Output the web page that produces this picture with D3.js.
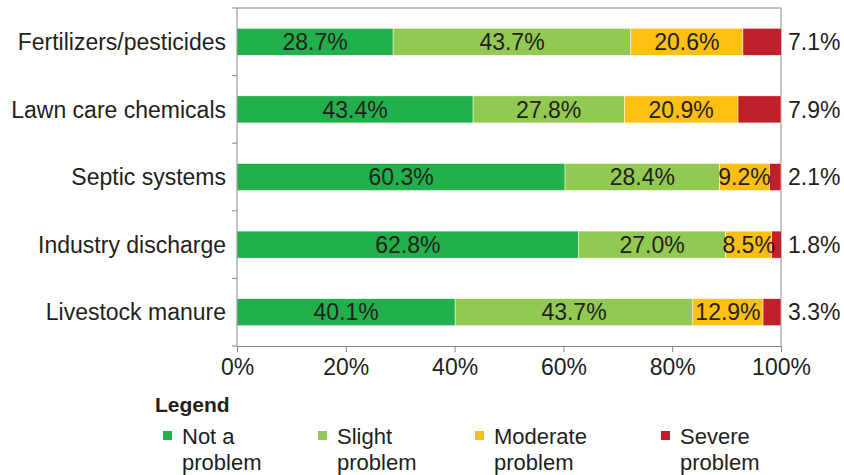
<!DOCTYPE html>
<html lang="en">
<head>
<meta charset="UTF-8">
<title>Water pollution sources</title>
<script src="https://d3js.org/d3.v7.min.js"></script>
<style>
    body { margin: 0; background: #fff; }
    svg text { font-family: "Liberation Sans", Arial, sans-serif; fill: #231f20; }
</style>
</head>
<body>
<svg id="chart" width="844" height="475"></svg>
<script>
// data
const categories = ["Fertilizers/pesticides", "Lawn care chemicals", "Septic systems", "Industry discharge", "Livestock manure"];
const seriesNames = ["Not a problem", "Slight problem", "Moderate problem", "Severe problem"];
const notAProblem = [28.7, 43.4, 60.3, 62.8, 40.1];
const slight = [43.7, 27.8, 28.4, 27.0, 43.7];
const moderate = [20.6, 20.9, 9.2, 8.5, 12.9];
const severe = [7.1, 7.9, 2.1, 1.8, 3.3];
const xTicks = [0, 20, 40, 60, 80, 100];
const colors = ["#21b04b", "#92c953", "#fdbf12", "#c0202a"];

const svg = d3.select("#chart");
const m = { left: 237, right: 63, top: 8, bottom: 129 };
const W = 844, H = 475;

const x = d3.scaleLinear().domain([0, 100]).range([m.left, W - m.right]);
const y = d3.scaleBand().domain(categories).range([m.top, H - m.bottom]).paddingInner(0.6).paddingOuter(0.3);

const rows = categories.map((c, i) => {
    const vals = [notAProblem[i], slight[i], moderate[i], severe[i]];
    let acc = 0;
    return vals.map((v, k) => { const s = acc; acc += v; return { cat: c, k, v, x0: s, x1: acc }; });
});

// frame top and right
svg.append("line").attr("x1", x(0)).attr("x2", x(100)).attr("y1", m.top).attr("y2", m.top).attr("stroke", "#888");
svg.append("line").attr("x1", x(100)).attr("x2", x(100)).attr("y1", m.top).attr("y2", H - m.bottom).attr("stroke", "#888");

const segs = svg.append("g").selectAll("g").data(rows).join("g");
segs.selectAll("rect").data(d => d).join("rect")
    .attr("x", d => x(d.x0))
    .attr("y", d => y(d.cat))
    .attr("width", d => x(d.x1) - x(d.x0))
    .attr("height", y.bandwidth())
    .attr("fill", d => colors[d.k])
    .attr("stroke", "#fff").attr("stroke-width", 0.5);

segs.selectAll("text").data(d => d).join("text")
    .attr("x", d => d.k === 3 ? x(100) + 7 : (x(d.x0) + x(d.x1)) / 2)
    .attr("y", d => y(d.cat) + y.bandwidth() / 2)
    .attr("dy", "0.36em")
    .attr("text-anchor", d => d.k === 3 ? "start" : "middle")
    .style("font-size", "23px")
    .text(d => d.v.toFixed(1) + "%");

// y axis with ticks between categories
const yAx = svg.append("g").attr("transform", `translate(${x(0)},0)`);
yAx.append("line").attr("y1", m.top).attr("y2", H - m.bottom).attr("stroke", "#888");
yAx.selectAll(".yt").data(d3.range(categories.length + 1)).join("line")
    .attr("class", "yt")
    .attr("x1", -5).attr("x2", 0)
    .attr("y1", i => m.top + i * y.step())
    .attr("y2", i => m.top + i * y.step())
    .attr("stroke", "#888");
yAx.selectAll(".yl").data(categories).join("text")
    .attr("class", "yl")
    .attr("x", -11)
    .attr("y", d => y(d) + y.bandwidth() / 2)
    .attr("dy", "0.36em")
    .attr("text-anchor", "end")
    .style("font-size", "23px")
    .text(d => d);

// x axis
const xAx = svg.append("g").attr("transform", `translate(0,${H - m.bottom})`)
    .call(d3.axisBottom(x).tickValues(xTicks).tickFormat(d => d + "%").tickSize(6).tickPadding(7));
xAx.selectAll("text").style("font-size", "23px").attr("fill", "#231f20").attr("font-family", null);
xAx.select(".domain").attr("stroke", "#888");
xAx.selectAll(".tick line").attr("stroke", "#888");

// legend
svg.append("text").attr("x", 155).attr("y", 412)
    .style("font-size", "21px").style("font-weight", "bold").text("Legend");
const legX = [163, 318, 475, 661];
const leg = svg.append("g").selectAll("g").data(seriesNames).join("g")
    .attr("transform", (d, i) => `translate(${legX[i]},0)`);
leg.append("rect").attr("x", 0).attr("y", 431).attr("width", 9).attr("height", 9)
    .attr("fill", (d, i) => colors[i]);
leg.append("text").attr("x", 19).attr("y", 444).style("font-size", "22px")
    .selectAll("tspan").data(d => {
        const p = d.split(" ");
        return [p.slice(0, -1).join(" "), p[p.length - 1]];
    }).join("tspan")
    .attr("x", 19).attr("dy", (d, i) => i === 0 ? 0 : 26)
    .text(d => d);
</script>
</body>
</html>
